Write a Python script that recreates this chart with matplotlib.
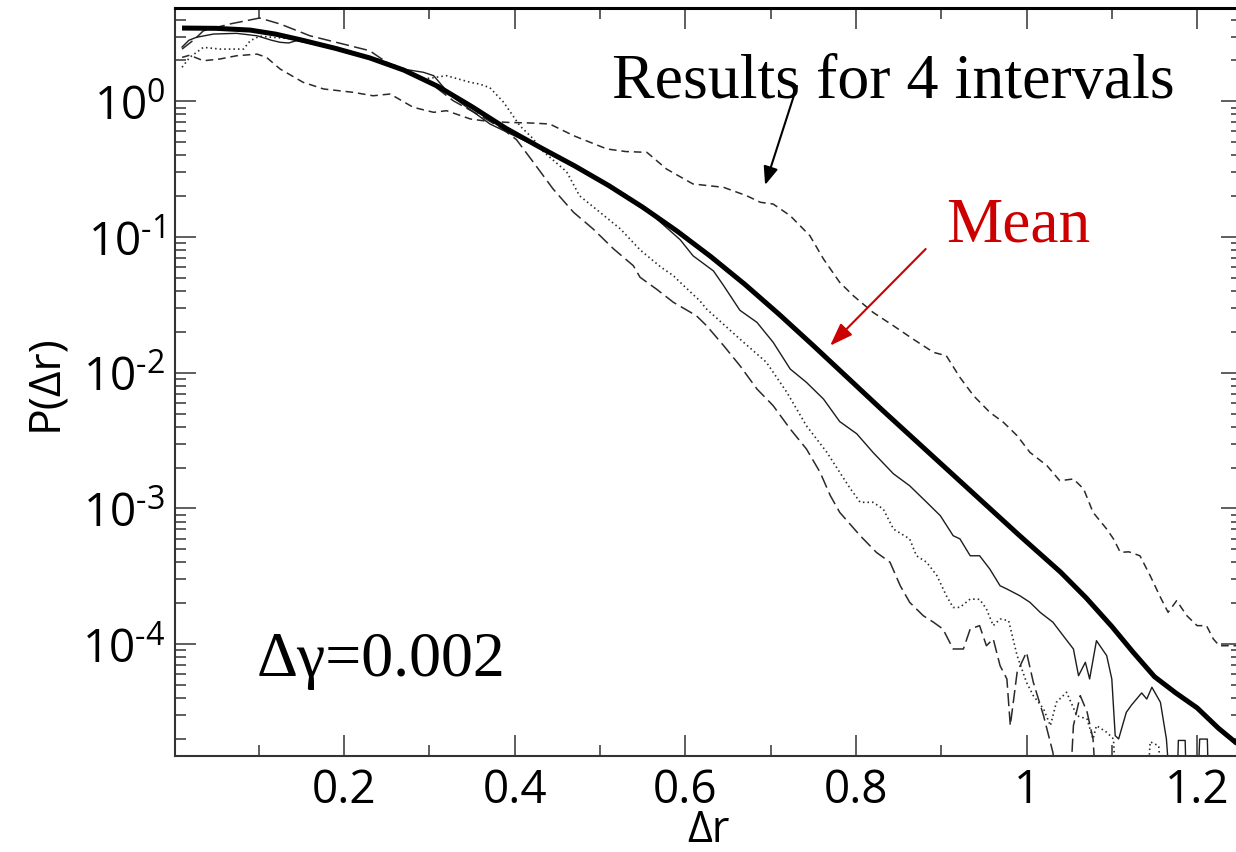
import numpy as np
import matplotlib
matplotlib.use("Agg")
import matplotlib.pyplot as plt
from matplotlib.ticker import MultipleLocator, LogLocator, FuncFormatter, NullFormatter

plt.rcParams['font.family'] = ['Open Sans', 'DejaVu Sans']
plt.rcParams['mathtext.fontset'] = 'custom'
plt.rcParams['mathtext.rm'] = 'Open Sans'
plt.rcParams['mathtext.it'] = 'Open Sans:italic'
plt.rcParams['mathtext.bf'] = 'Open Sans:bold'
plt.rcParams['lines.scale_dashes'] = False

# ---- data: displacement distributions P(dr), stored as log10(P) ----
x_mean = [0.010, 0.05, 0.09, 0.12, 0.15, 0.19, 0.23, 0.27, 0.31, 0.35, 0.39, 0.43,
          0.47, 0.51, 0.55, 0.59, 0.63, 0.67, 0.71, 0.75, 0.79, 0.83, 0.87, 0.91,
          0.95, 0.99, 1.04, 1.07, 1.10, 1.125, 1.15, 1.175, 1.20, 1.225, 1.252]
log10_p_mean = [0.540, 0.538, 0.525, 0.495, 0.452, 0.39, 0.32, 0.23, 0.11, -0.04,
                -0.20, -0.34, -0.475, -0.62, -0.78, -0.955, -1.145, -1.35, -1.57,
                -1.80, -2.035, -2.27, -2.50, -2.73, -2.96, -3.19, -3.47, -3.66, -3.87,
                -4.06, -4.24, -4.36, -4.47, -4.62, -4.76]

x_solid = [0.010, 0.018, 0.027, 0.047, 0.074, 0.098, 0.115, 0.125, 0.135, 0.144,
           0.19, 0.238, 0.269, 0.293, 0.305, 0.320, 0.328, 0.371, 0.430, 0.47, 0.51,
           0.55, 0.594, 0.609, 0.633, 0.645, 0.664, 0.684, 0.703, 0.723, 0.742, 0.762,
           0.781, 0.801, 0.820, 0.844, 0.863, 0.883, 0.899, 0.914, 0.922, 0.934, 0.945,
           0.957, 0.969, 0.977, 0.992, 1.004, 1.016, 1.031, 1.043, 1.055, 1.061, 1.069,
           1.074, 1.082, 1.094, 1.100, 1.104, 1.108, 1.117, 1.123, 1.129, 1.135, 1.141,
           1.147, 1.157, 1.164, 1.170, 1.176, 1.178, 1.186, 1.188, 1.200, 1.203, 1.212,
           1.214, 1.252]
log10_p_solid = [0.40, 0.45, 0.472, 0.496, 0.501, 0.483, 0.45, 0.435, 0.43, 0.447,
                 0.39, 0.312, 0.238, 0.214, 0.189, 0.078, 0.029, -0.167, -0.345, -0.48,
                 -0.62, -0.775, -1.02, -1.138, -1.25, -1.359, -1.54, -1.629, -1.776,
                 -1.973, -2.071, -2.194, -2.36, -2.45, -2.587, -2.745, -2.833, -2.955,
                 -3.054, -3.201, -3.225, -3.349, -3.349, -3.447, -3.570, -3.594, -3.643,
                 -3.692, -3.766, -3.839, -3.938, -4.036, -4.233, -4.134, -4.257, -3.975,
                 -4.085, -4.257, -4.675, -4.699, -4.503, -4.45, -4.405, -4.36, -4.405,
                 -4.318, -4.429, -4.699, -5.2, -5.2, -4.71, -4.71, -5.2, -5.2, -4.70,
                 -4.70, -5.2, -5.2]

x_dotted = [0.010, 0.019, 0.035, 0.0545, 0.082, 0.090, 0.101, 0.14, 0.19, 0.24, 0.27,
            0.293, 0.320, 0.348, 0.359, 0.371, 0.387, 0.406, 0.422, 0.430, 0.461, 0.476,
            0.500, 0.524, 0.547, 0.571, 0.586, 0.594, 0.617, 0.625, 0.664, 0.695, 0.719,
            0.742, 0.766, 0.781, 0.793, 0.805, 0.820, 0.832, 0.844, 0.863, 0.871, 0.883,
            0.895, 0.906, 0.914, 0.922, 0.934, 0.945, 0.953, 0.961, 0.969, 0.979, 0.989,
            1.000, 1.008, 1.020, 1.028, 1.035, 1.047, 1.059, 1.071, 1.078, 1.082, 1.094,
            1.102, 1.106, 1.140, 1.145, 1.155, 1.160, 1.252]
log10_p_dotted = [0.251, 0.324, 0.398, 0.385, 0.385, 0.447, 0.48, 0.46, 0.40, 0.31,
                  0.24, 0.164, 0.189, 0.140, 0.127, 0.10, -0.007, -0.180, -0.278, -0.351,
                  -0.52, -0.696, -0.818, -0.941, -1.095, -1.22, -1.285, -1.334, -1.47,
                  -1.531, -1.752, -1.923, -2.144, -2.391, -2.587, -2.734, -2.85, -2.955,
                  -2.955, -3.004, -3.152, -3.225, -3.349, -3.397, -3.496, -3.643, -3.730,
                  -3.729, -3.668, -3.67, -3.741, -3.864, -3.815, -3.827, -4.085, -4.282,
                  -4.380, -4.478, -4.601, -4.429, -4.355, -4.528, -4.552, -4.699, -4.601,
                  -4.65, -4.699, -5.2, -5.2, -4.72, -4.75, -5.2, -5.2]

x_longdash = [0.010, 0.025, 0.035, 0.066, 0.101, 0.125, 0.160, 0.199, 0.230, 0.250,
              0.269, 0.295, 0.328, 0.363, 0.385, 0.402, 0.422, 0.445, 0.469, 0.492, 0.516,
              0.539, 0.547, 0.566, 0.586, 0.613, 0.625, 0.645, 0.664, 0.684, 0.703, 0.723,
              0.742, 0.758, 0.770, 0.781, 0.805, 0.824, 0.840, 0.852, 0.863, 0.879, 0.891,
              0.902, 0.914, 0.926, 0.934, 0.945, 0.953, 0.961, 0.969, 0.977, 0.981, 0.989,
              1.000, 1.008, 1.020, 1.031, 1.038, 1.050, 1.055, 1.063, 1.071, 1.078, 1.083,
              1.252]
log10_p_longdash = [0.385, 0.459, 0.520, 0.570, 0.614, 0.570, 0.483, 0.422, 0.373, 0.287,
                    0.238, 0.164, 0.004, -0.118, -0.20, -0.282, -0.450, -0.646, -0.818,
                    -0.941, -1.088, -1.211, -1.297, -1.383, -1.481, -1.580, -1.654, -1.801,
                    -1.948, -2.120, -2.243, -2.415, -2.562, -2.734, -2.906, -3.029, -3.201,
                    -3.324, -3.397, -3.570, -3.692, -3.791, -3.839, -3.889, -4.036, -4.036,
                    -3.889, -3.864, -4.012, -3.962, -4.159, -4.257, -4.601, -4.208, -4.060,
                    -4.282, -4.528, -4.80, -5.2, -5.2, -4.601, -4.380, -4.50, -4.699, -5.2,
                    -5.2]

x_shortdash = [0.010, 0.019, 0.035, 0.0545, 0.074, 0.098, 0.109, 0.125, 0.152, 0.176,
               0.211, 0.234, 0.254, 0.281, 0.305, 0.320, 0.348, 0.363, 0.391, 0.420, 0.441,
               0.469, 0.508, 0.530, 0.555, 0.578, 0.609, 0.645, 0.672, 0.688, 0.703, 0.723,
               0.746, 0.762, 0.781, 0.797, 0.820, 0.844, 0.867, 0.891, 0.906, 0.922, 0.938,
               0.957, 0.973, 0.989, 1.004, 1.024, 1.039, 1.055, 1.067, 1.078, 1.094, 1.102,
               1.110, 1.120, 1.133, 1.145, 1.157, 1.166, 1.176, 1.188, 1.200, 1.211, 1.219,
               1.226, 1.252]
log10_p_shortdash = [0.324, 0.34, 0.299, 0.312, 0.336, 0.348, 0.324, 0.238, 0.140, 0.091,
                     0.066, 0.041, 0.054, -0.044, -0.081, -0.069, -0.130, -0.143, -0.155,
                     -0.16, -0.167, -0.253, -0.351, -0.37, -0.376, -0.499, -0.609, -0.634,
                     -0.696, -0.744, -0.757, -0.843, -0.990, -1.162, -1.334, -1.433, -1.555,
                     -1.654, -1.752, -1.850, -1.875, -2.035, -2.170, -2.292, -2.366, -2.464,
                     -2.587, -2.685, -2.796, -2.783, -2.857, -3.029, -3.152, -3.225, -3.324,
                     -3.32, -3.349, -3.496, -3.655, -3.766, -3.680, -3.791, -3.864, -3.864,
                     -3.962, -4.012, -4.012]


def decade_label(v, pos):
    """10^n with a short hyphen in negative exponents."""
    e = int(round(np.log10(v)))
    s = str(e).replace('-', '\u2010')
    return f"$\\mathregular{{10^{{{s}}}}}$"


# ---- figure ----
fig = plt.figure(figsize=(12.36, 8.53), dpi=100)
ax = fig.add_axes([0.1416, 0.1129, 0.8633, 0.8765])

ink = '#1c1c1c'
ax.plot(x_longdash, 10 ** np.array(log10_p_longdash), color='#2a2a2a', lw=1.1,
        dashes=(9.5, 3.8))
ax.plot(x_shortdash, 10 ** np.array(log10_p_shortdash), color='#2a2a2a', lw=1.1,
        dashes=(5.5, 3.5))
ax.plot(x_dotted, 10 ** np.array(log10_p_dotted), color='#2a2a2a', lw=1.2,
        dashes=(1.1, 2.2))
ax.plot(x_solid, 10 ** np.array(log10_p_solid), color=ink, lw=1.0)
ax.plot(x_mean, 10 ** np.array(log10_p_mean), color='black', lw=3.6,
        solid_capstyle='butt', solid_joinstyle='round')

ax.set_yscale('log')
ax.set_xlim(0.00176, 1.2527)
ax.set_ylim(1.505e-5, 4.87)

ax.xaxis.set_major_locator(MultipleLocator(0.2))
ax.xaxis.set_minor_locator(MultipleLocator(0.1))
ax.xaxis.set_major_formatter(FuncFormatter(lambda v, p: f"{v:g}"))
ax.yaxis.set_major_locator(LogLocator(base=10, numticks=20))
ax.yaxis.set_minor_locator(LogLocator(base=10, subs=np.arange(2, 10), numticks=20))
ax.yaxis.set_major_formatter(FuncFormatter(decade_label))
ax.yaxis.set_minor_formatter(NullFormatter())

tick_col = '#333333'
ax.tick_params(which='both', direction='in', top=True, right=True, colors=tick_col,
               labelcolor='black', labelsize=33)
ax.tick_params(which='major', length=15, width=1.1)
ax.tick_params(which='minor', length=7.7, width=1.1)
ax.tick_params(axis='x', which='major', pad=8)
ax.tick_params(axis='y', which='major', pad=7)

for side in ['left', 'bottom', 'right']:
    ax.spines[side].set_linewidth(1.5)
    ax.spines[side].set_color(tick_col)
ax.spines['top'].set_linewidth(2.2)
ax.spines['top'].set_color('black')

ax.set_xlabel('Δr', fontsize=31, va='baseline')
ax.xaxis.set_label_coords(0.5, -0.1140)
ax.set_ylabel('P(Δr)', fontsize=32)
ax.yaxis.set_label_coords(-0.101, 0.5)

serif = ['Liberation Serif', 'DejaVu Serif']
ax.text(0.4096, 0.881, 'Results for 4 intervals', transform=ax.transAxes,
        family=serif, fontsize=46, ha='left', va='baseline', color='black')
ax.text(0.7223, 0.6888, 'Mean', transform=ax.transAxes, family=serif, fontsize=45.5,
        ha='left', va='baseline', color='#cc0000')
ax.text(0.0766, 0.1079, 'Δγ=0.002', transform=ax.transAxes, family=serif, fontsize=46,
        ha='left', va='baseline', color='black')

ax.annotate('', xy=(0.5530, 0.7633), xytext=(0.5829, 0.8957),
            xycoords='axes fraction', textcoords='axes fraction',
            arrowprops=dict(arrowstyle='-|>,head_length=0.55,head_width=0.22',
                            mutation_scale=20, lw=1.5, color='black',
                            shrinkA=0, shrinkB=0))
ax.annotate('', xy=(0.6139, 0.5484), xytext=(0.7035, 0.6777),
            xycoords='axes fraction', textcoords='axes fraction',
            arrowprops=dict(arrowstyle='-|>,head_length=0.7,head_width=0.25',
                            mutation_scale=20, lw=1.5, color='#cc0000',
                            shrinkA=0, shrinkB=0))

fig.savefig('out.png', dpi=100)
